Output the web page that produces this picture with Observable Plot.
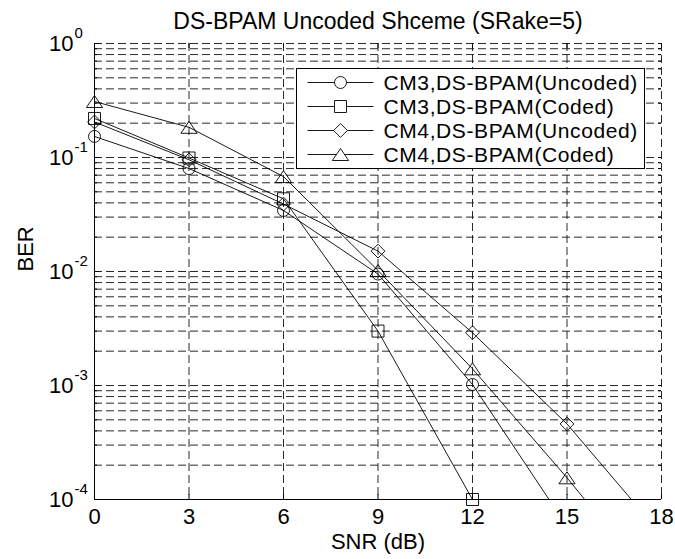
<!DOCTYPE html>
<html>
<head>
<meta charset="utf-8">
<script src="https://cdn.jsdelivr.net/npm/d3@7"></script>
<script src="https://cdn.jsdelivr.net/npm/@observablehq/plot@0.6"></script>
<style>
  html, body { margin: 0; padding: 0; background: white; }
  #chart { width: 675px; height: 559px; }
</style>
</head>
<body>
<div id="chart"></div>
<script>
// ---- data ----
const titleText = "DS-BPAM Uncoded Shceme (SRake=5)";
const xLabel = "SNR (dB)";
const yLabel = "BER";
const snr = [0, 3, 6, 9, 12, 15, 18];
const xTicks = [0, 3, 6, 9, 12, 15, 18];
const yTicks = [1e-4, 1e-3, 1e-2, 1e-1, 1];
const yMinorMultipliers = [2, 3, 4, 5, 6, 7, 8, 9];
const seriesNames = [
  "CM3,DS-BPAM(Uncoded)",
  "CM3,DS-BPAM(Coded)",
  "CM4,DS-BPAM(Uncoded)",
  "CM4,DS-BPAM(Coded)"
];
const cm3Uncoded = [0.153, 0.080, 0.0343, 0.0095, 0.00102, 0.000058];
const cm3Coded   = [0.22, 0.099, 0.0434, 0.003, 0.0001];
const cm4Uncoded = [0.205, 0.0955, 0.039, 0.0151, 0.0029, 0.00046, 0.000049];
const cm4Coded   = [0.31, 0.184, 0.068, 0.0102, 0.0014, 0.000155, 0.000015];
// legend placement in data units (upper-right corner inside the axes)
const legendX = [6.4, 17.45];
const legendY = [0.6, 0.08];

// ---- symbols (MATLAB-like markers) ----
const symCircle = {draw(ctx, size) { const r = Math.sqrt(size / Math.PI); ctx.moveTo(r, 0); ctx.arc(0, 0, r, 0, 2 * Math.PI); }};
const symSquare = {draw(ctx, size) { const r = Math.sqrt(size / Math.PI); ctx.rect(-r, -r, 2 * r, 2 * r); }};
const symDiamond = {draw(ctx, size) { const r = Math.sqrt(size / Math.PI) * 1.15; ctx.moveTo(0, -r); ctx.lineTo(r, 0); ctx.lineTo(0, r); ctx.lineTo(-r, 0); ctx.closePath(); }};
const symTriangle = {draw(ctx, size) { const r = Math.sqrt(size / Math.PI); ctx.moveTo(0, -r); ctx.lineTo(1.35 * r, r); ctx.lineTo(-1.35 * r, r); ctx.closePath(); }};
const symbols = [symCircle, symSquare, symDiamond, symTriangle];

const seriesValues = [cm3Uncoded, cm3Coded, cm4Uncoded, cm4Coded];
const rows = seriesValues.flatMap((vals, i) => vals.map((v, j) => ({series: seriesNames[i], snr: snr[j], ber: v})));

const yMin = 1e-4, yMax = 1;
const gridY = [];
for (let k = -4; k < 0; k++) {
  gridY.push(Math.pow(10, k));
  for (const m of yMinorMultipliers) gridY.push(m * Math.pow(10, k));
}
gridY.push(1);

// ---- layout ----
const W = 675, H = 559;
const mL = 94, mR = 14, mT = 43, mB = 60;
const fw = W - mL - mR, fh = H - mT - mB;
const FONT = "'Liberation Sans', Arial, Helvetica, sans-serif";
const dash = "8,4";

const marks = [
  // grid
  Plot.ruleY(gridY.filter(v => v > yMin), {y: d => d, stroke: "#111", strokeWidth: 0.9, strokeDasharray: dash}),
  Plot.ruleX(xTicks.filter(v => v > 0), {x: d => d, stroke: "#111", strokeWidth: 0.9, strokeDasharray: dash}),
  // inner ticks
  Plot.tickX(xTicks, {x: d => d, insetTop: fh - 5, stroke: "black"}),
  Plot.tickX(xTicks, {x: d => d, insetBottom: fh - 5, stroke: "black"}),
  Plot.tickY(yTicks, {y: d => d, insetRight: fw - 5, stroke: "black"}),
  Plot.tickY(gridY.filter(v => !yTicks.includes(v)), {y: d => d, insetRight: fw - 3, stroke: "black"}),
  Plot.tickY(gridY, {y: d => d, insetLeft: fw - 3, stroke: "black"}),
  // axis lines
  Plot.ruleY([yMin], {y: d => d, stroke: "black", strokeWidth: 1}),
  Plot.ruleX([0], {x: d => d, stroke: "black", strokeWidth: 1}),
  // series lines
  Plot.line(rows, {x: "snr", y: "ber", z: "series", stroke: "black", strokeWidth: 0.9, clip: true}),
  // markers
  ...seriesNames.map((name, i) =>
    Plot.dot(rows.filter(d => d.series === name && d.ber >= yMin), {x: "snr", y: "ber", r: 6, symbol: symbols[i], stroke: "black", fill: "none", strokeWidth: 0.9})
  ),
  // x axis labels
  Plot.axisX(xTicks, {tickSize: 0, tickPadding: 9, fontSize: 22, label: null}),
  // y axis labels as 10^k
  Plot.text(yTicks, {y: d => d, text: () => "10", frameAnchor: "left", textAnchor: "end", dx: -21, fontSize: 22}),
  Plot.text(yTicks, {y: d => d, text: d => String(Math.round(Math.log10(d))), frameAnchor: "left", textAnchor: "start", dx: -20, dy: -10, fontSize: 15}),
  // titles
  Plot.text([titleText], {frameAnchor: "top", dy: -31, fontSize: 23}),
  Plot.text([xLabel], {frameAnchor: "bottom", dy: 49, fontSize: 22}),
  Plot.text([yLabel], {frameAnchor: "left", dx: -69, rotate: -90, fontSize: 22})
];

const svg = Plot.plot({
  width: W, height: H,
  marginLeft: mL, marginRight: mR, marginTop: mT, marginBottom: mB,
  style: {fontFamily: FONT, fontSize: "22px", background: "white", color: "black"},
  x: {domain: [0, 18], label: null},
  y: {type: "log", domain: [yMin, yMax], axis: null, label: null},
  marks
});

// ---- legend box (positioned through the chart's scales) ----
const sx = svg.scale("x"), sy = svg.scale("y");
const lx0 = Math.round(sx.apply(legendX[0])) + 0.5, lx1 = Math.round(sx.apply(legendX[1])) + 0.5;
const ly0 = Math.round(sy.apply(legendY[0])) + 0.5, ly1 = Math.round(sy.apply(legendY[1])) + 0.5;
const g = d3.select(svg).append("g").attr("font-family", FONT).attr("font-size", 21).attr("text-anchor", "start");
g.append("rect").attr("x", lx0).attr("y", ly0).attr("width", lx1 - lx0).attr("height", ly1 - ly0)
  .attr("fill", "white").attr("stroke", "black").attr("stroke-width", 1);
const rowH = (ly1 - ly0 - 4) / 4;
seriesNames.forEach((name, i) => {
  const yy = ly0 + 2 + rowH * (0.5 + i);
  g.append("line").attr("x1", lx0 + 11).attr("x2", lx0 + 77).attr("y1", yy).attr("y2", yy).attr("stroke", "black").attr("stroke-width", 0.9);
  g.append("path").attr("d", d3.symbol(symbols[i], Math.PI * 36)()).attr("transform", `translate(${lx0 + 44},${yy})`)
    .attr("fill", "white").attr("stroke", "black").attr("stroke-width", 0.9);
  g.append("text").attr("x", lx0 + 87).attr("y", yy).attr("dy", "0.36em").attr("text-anchor", "start")
    .attr("letter-spacing", "0.6px").text(name);
});

document.getElementById("chart").appendChild(svg);
</script>
</body>
</html>
